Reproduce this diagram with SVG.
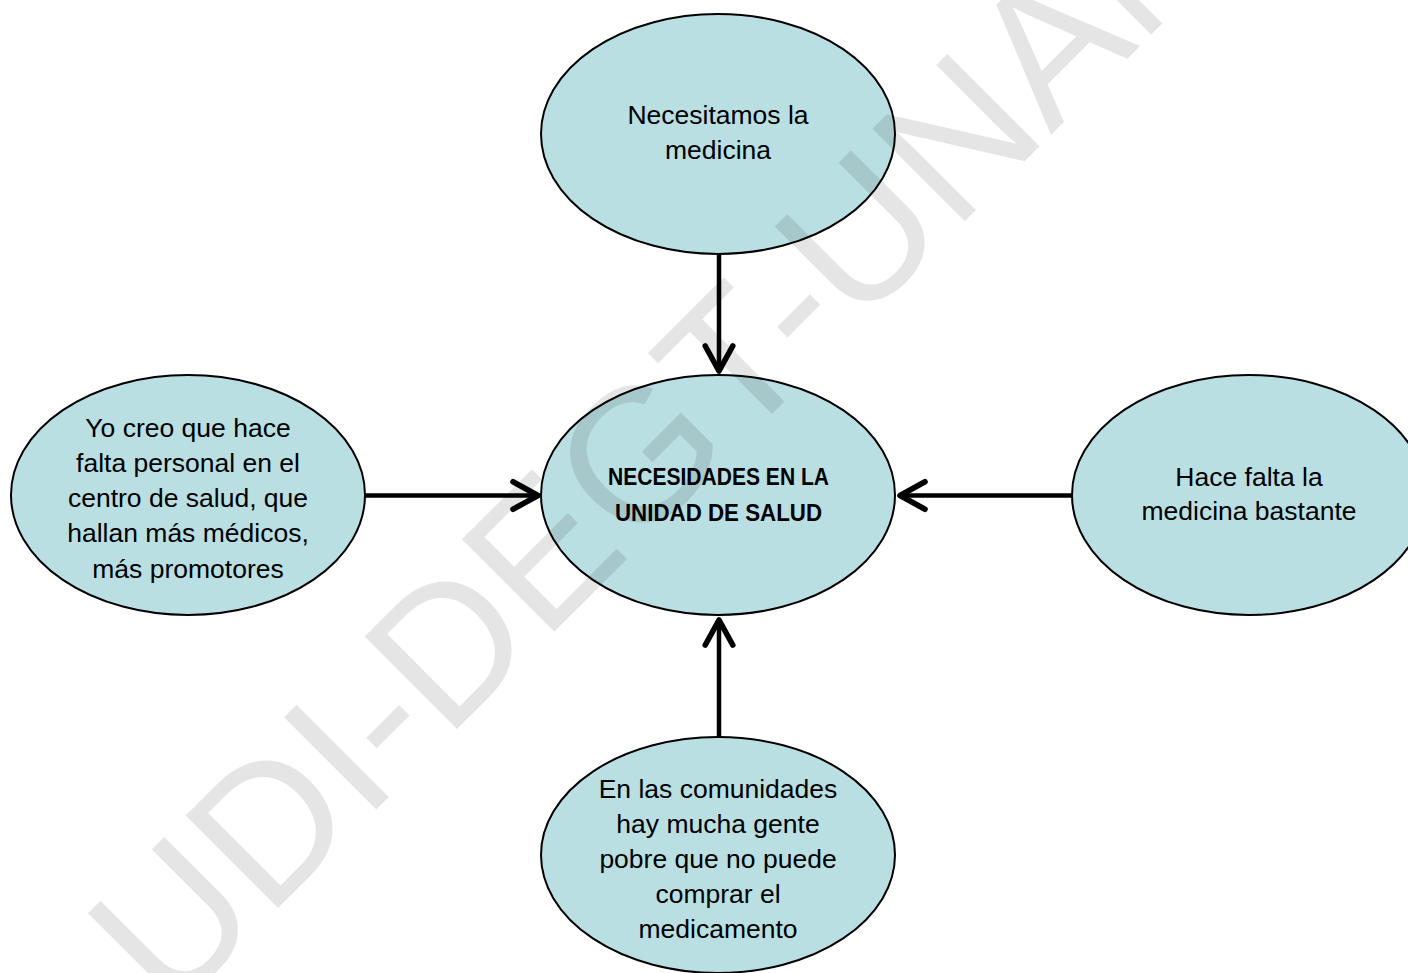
<svg xmlns="http://www.w3.org/2000/svg" width="1408" height="973" viewBox="0 0 1408 973">
  <style>
    .node ellipse { fill: #b9dfe3; stroke: #000; stroke-width: 2; }
    .label { font-family: "Liberation Sans", Arial, sans-serif; font-size: 26.5px; fill: #000; text-anchor: middle; }
    .title { font-family: "Liberation Sans", Arial, sans-serif; font-weight: bold; font-size: 23px; fill: #000; text-anchor: middle; }
    .conn { stroke: #000; stroke-width: 4.5; fill: none; stroke-linecap: round; }
    .wm { font-family: "Liberation Sans", Arial, sans-serif; font-size: 190px; fill: #000; fill-opacity: 0.1; }
  </style>
  <defs>
    <marker id="chev" markerUnits="userSpaceOnUse" markerWidth="40" markerHeight="40" viewBox="-24 -16 30 32" refX="0" refY="0" orient="auto" overflow="visible">
      <path d="M-20,-11 L0,0 L-20,11" fill="none" stroke="#000" stroke-width="4.5" stroke-linecap="round" stroke-linejoin="round"/>
    </marker>
  </defs>

  <rect width="1408" height="973" fill="#fff"/>

  <g id="connectors">
    <line class="conn" x1="719" y1="254" x2="719" y2="371" marker-end="url(#chev)"/>
    <line class="conn" x1="365" y1="495.5" x2="538" y2="495.5" marker-end="url(#chev)"/>
    <line class="conn" x1="1072" y1="495.5" x2="900" y2="495.5" marker-end="url(#chev)"/>
    <line class="conn" x1="719" y1="737" x2="719" y2="620" marker-end="url(#chev)"/>
  </g>

  <g id="node-top" class="node">
    <ellipse cx="718" cy="134" rx="177" ry="120"/>
    <text class="label" x="718" y="124">Necesitamos la</text>
    <text class="label" x="718" y="159">medicina</text>
  </g>

  <g id="node-center" class="node">
    <ellipse cx="718" cy="495" rx="177" ry="120"/>
    <text class="title" x="718.5" y="485" textLength="221" lengthAdjust="spacingAndGlyphs">NECESIDADES EN LA</text>
    <text class="title" x="718.5" y="521" textLength="207" lengthAdjust="spacingAndGlyphs">UNIDAD DE SALUD</text>
  </g>

  <g id="node-left" class="node">
    <ellipse cx="188" cy="495" rx="177" ry="120"/>
    <text class="label" x="188" y="437">Yo creo que hace</text>
    <text class="label" x="188" y="472">falta personal en el</text>
    <text class="label" x="188" y="507">centro de salud, que</text>
    <text class="label" x="188" y="542">hallan más médicos,</text>
    <text class="label" x="188" y="578">más promotores</text>
  </g>

  <g id="node-right" class="node">
    <ellipse cx="1249" cy="495" rx="177" ry="120"/>
    <text class="label" x="1249" y="486">Hace falta la</text>
    <text class="label" x="1249" y="520">medicina bastante</text>
  </g>

  <g id="node-bottom" class="node">
    <ellipse cx="718" cy="855" rx="177" ry="118"/>
    <text class="label" x="718" y="798">En las comunidades</text>
    <text class="label" x="718" y="833">hay mucha gente</text>
    <text class="label" x="718" y="868">pobre que no puede</text>
    <text class="label" x="718" y="903">comprar el</text>
    <text class="label" x="718" y="938">medicamento</text>
  </g>

  <!-- diagonal watermark -->
  <text class="wm" x="170" y="1016" transform="rotate(-45 170 1016)">UDI-DEGT-UNAN</text>
</svg>
